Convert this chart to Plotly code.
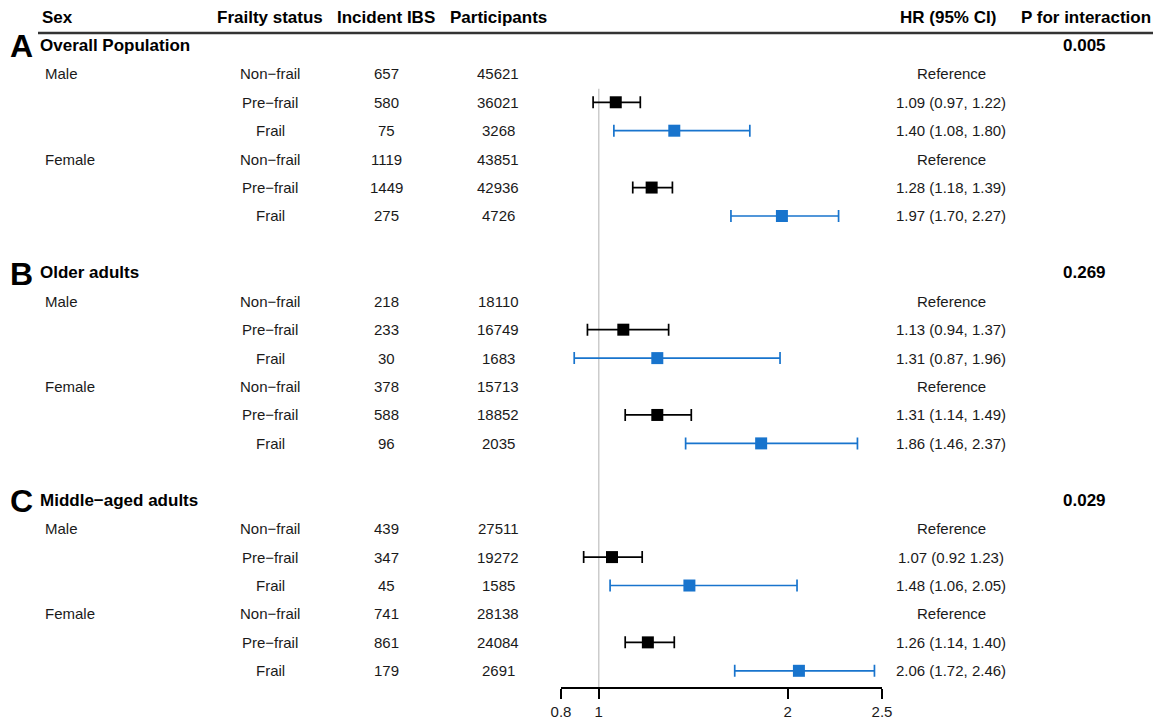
import plotly.graph_objects as go

# ---------------- data ----------------
letters = ["A", "B", "C"]
groups = ["Overall Population", "Older adults", "Middle\u2212aged adults"]
p_interaction = ["0.005", "0.269", "0.029"]

sex_labels = ["Male", "", "", "Female", "", ""]
frailty = ["Non\u2212frail", "Pre\u2212frail", "Frail", "Non\u2212frail", "Pre\u2212frail", "Frail"]

incident = [
    [657, 580, 75, 1119, 1449, 275],
    [218, 233, 30, 378, 588, 96],
    [439, 347, 45, 741, 861, 179],
]
participants = [
    [45621, 36021, 3268, 43851, 42936, 4726],
    [18110, 16749, 1683, 15713, 18852, 2035],
    [27511, 19272, 1585, 28138, 24084, 2691],
]
hr = [
    [None, 1.09, 1.40, None, 1.28, 1.97],
    [None, 1.13, 1.31, None, 1.31, 1.86],
    [None, 1.07, 1.48, None, 1.26, 2.06],
]
lo = [
    [None, 0.97, 1.08, None, 1.18, 1.70],
    [None, 0.94, 0.87, None, 1.14, 1.46],
    [None, 0.92, 1.06, None, 1.14, 1.72],
]
hi = [
    [None, 1.22, 1.80, None, 1.39, 2.27],
    [None, 1.37, 1.96, None, 1.49, 2.37],
    [None, 1.23, 2.05, None, 1.40, 2.46],
]
hr_text = [
    ["Reference", "1.09 (0.97, 1.22)", "1.40 (1.08, 1.80)", "Reference", "1.28 (1.18, 1.39)", "1.97 (1.70, 2.27)"],
    ["Reference", "1.13 (0.94, 1.37)", "1.31 (0.87, 1.96)", "Reference", "1.31 (1.14, 1.49)", "1.86 (1.46, 2.37)"],
    ["Reference", "1.07 (0.92 1.23)", "1.48 (1.06, 2.05)", "Reference", "1.26 (1.14, 1.40)", "2.06 (1.72, 2.46)"],
]
headers = ["Sex", "Frailty status", "Incident IBS", "Participants", "HR (95% CI)", "P for interaction"]
tick_vals = [0.8, 1, 2, 2.5]
tick_text = ["0.8", "1", "2", "2.5"]

# ---------------- layout helpers ----------------
W, H = 1153, 723
FONT = "Liberation Sans, Arial, Helvetica, sans-serif"
BLACK = "#000000"
BLUE = "#1874CD"
TXT = "#1a1a1a"

def px(x):
    return x / W

col_x = {"sex": 43, "frailty": 270, "incident": 386, "participants": 498, "hr": 951, "p": 1084}

annotations = []

def add_text(x, y, text, size=15, bold=False, anchor="center", color=TXT):
    annotations.append(dict(
        x=px(x), y=y, xref="paper", yref="y", text=("<b>%s</b>" % text) if bold else text,
        showarrow=False, xanchor=anchor, yanchor="middle",
        font=dict(family=FONT, size=size, color=color),
    ))

# headers (row 0)
add_text(40, 0, headers[0], 17, True, "left", BLACK)
add_text(col_x["frailty"], 0, headers[1], 17, True, "center", BLACK)
add_text(col_x["incident"], 0, headers[2], 17, True, "center", BLACK)
add_text(col_x["participants"], 0, headers[3], 17, True, "center", BLACK)
add_text(948, 0, headers[4], 17, True, "center", BLACK)
add_text(1086, 0, headers[5], 17, True, "center", BLACK)

pre_x, pre_y, pre_lo, pre_hi = [], [], [], []
fr_x, fr_y, fr_lo, fr_hi = [], [], [], []

for g in range(3):
    title_row = 1 + g * 8
    annotations.append(dict(
        x=px(8), y=title_row + 0.03, xref="paper", yref="y", text="<b>%s</b>" % letters[g],
        showarrow=False, xanchor="left", yanchor="middle",
        font=dict(family=FONT, size=32, color=BLACK),
    ))
    add_text(38, title_row, groups[g], 17, True, "left", BLACK)
    add_text(col_x["p"], title_row, p_interaction[g], 17, True, "center", BLACK)
    for i in range(6):
        r = title_row + 1 + i
        if sex_labels[i]:
            add_text(col_x["sex"], r, sex_labels[i], 15, False, "left")
        add_text(col_x["frailty"], r, frailty[i], 15)
        add_text(col_x["incident"], r, str(incident[g][i]), 15)
        add_text(col_x["participants"], r, str(participants[g][i]), 15)
        add_text(col_x["hr"], r, hr_text[g][i], 15)
        if hr[g][i] is not None:
            if i % 3 == 1:
                pre_x.append(hr[g][i]); pre_y.append(r)
                pre_lo.append(hr[g][i] - lo[g][i]); pre_hi.append(hi[g][i] - hr[g][i])
            else:
                fr_x.append(hr[g][i]); fr_y.append(r)
                fr_lo.append(hr[g][i] - lo[g][i]); fr_hi.append(hi[g][i] - hr[g][i])

fig = go.Figure()
fig.add_trace(go.Scatter(
    x=pre_x, y=pre_y, mode="markers", cliponaxis=False, showlegend=False,
    marker=dict(symbol="square", size=12, color=BLACK),
    error_x=dict(type="data", symmetric=False, array=pre_hi, arrayminus=pre_lo,
                 color=BLACK, thickness=1.7, width=6),
))
fig.add_trace(go.Scatter(
    x=fr_x, y=fr_y, mode="markers", cliponaxis=False, showlegend=False,
    marker=dict(symbol="square", size=12, color=BLUE),
    error_x=dict(type="data", symmetric=False, array=fr_hi, arrayminus=fr_lo,
                 color=BLUE, thickness=1.7, width=6),
))

y_top, y_bot = -0.598, 23.57
shapes = [
    # header rule
    dict(type="line", xref="paper", yref="y", x0=px(38), x1=1.0, y0=0.563, y1=0.563,
         line=dict(color="#333333", width=2.5)),
    # reference line at HR = 1
    dict(type="line", xref="x", yref="y", x0=1, x1=1, y0=2.52, y1=y_bot,
         line=dict(color="#cccccc", width=1.5), layer="below"),
]

fig.update_layout(
    width=W, height=H,
    autosize=False,
    margin=dict(l=0, r=0, t=0, b=36, pad=0, autoexpand=False),
    paper_bgcolor="white", plot_bgcolor="white",
    xaxis=dict(domain=[561 / W, 882 / W], range=[0.8, 2.5], showgrid=False, zeroline=False,
               showline=True, linecolor=BLACK, linewidth=1.5, automargin=False,
               ticks="outside", ticklen=10, tickwidth=1.5, tickcolor=BLACK,
               tickvals=tick_vals, ticktext=tick_text,
               tickfont=dict(family=FONT, size=15, color=TXT), fixedrange=True),
    yaxis=dict(range=[y_bot, y_top], visible=False, showgrid=False, zeroline=False,
               fixedrange=True, automargin=False),
    annotations=annotations,
    shapes=shapes,
    showlegend=False,
)

fig.write_html(
    "out.html",
    config={"displayModeBar": False, "responsive": False},
    post_script="document.body.style.margin='0';document.body.style.overflow='hidden';"
                "document.documentElement.style.overflow='hidden';",
)
